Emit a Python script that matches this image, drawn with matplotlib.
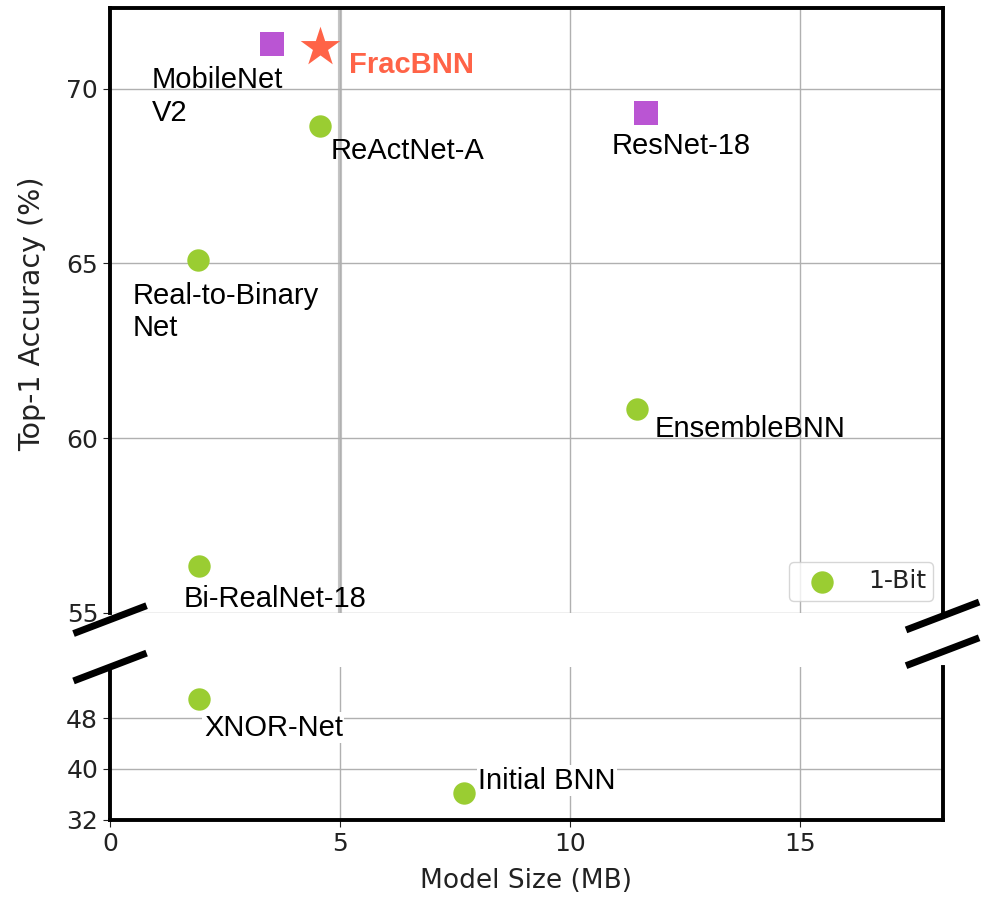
import matplotlib.pyplot as plt
import numpy as np

# model size (MB) / top-1 accuracy (%)
names = ['MobileNet\nV2', 'ResNet-18', 'FracBNN', 'ReActNet-A', 'Real-to-Binary\nNet',
         'EnsembleBNN', 'Bi-RealNet-18', 'XNOR-Net', 'Initial BNN']
size_mb = [3.52, 11.65, 4.57, 4.57, 1.91, 11.46, 1.93, 1.93, 7.7]
acc = [71.26, 69.29, 71.2, 68.94, 65.09, 60.83, 56.34, 51.0, 36.2]
kind = ['fp', 'fp', 'frac', '1bit', '1bit', '1bit', '1bit', '1bit', '1bit']

# label anchor (left/top) per model
lab_x = [0.91, 10.91, 5.2, 4.8, 0.5, 11.83, 1.61, 2.04, 8.0]
lab_y = [70.63, 68.76, 71.08, 68.6, 64.48, 60.65, 55.8, 48.7, 40.35]

green = '#9acd32'
purple = '#ba55d3'
red = '#ff6347'

fig = plt.figure(figsize=(9.87, 8.98), dpi=100)
ax1 = fig.add_axes([0.1115, 0.3174, 0.8435, 0.6736])
ax2 = fig.add_axes([0.1115, 0.0869, 0.8435, 0.1703])

for ax in (ax1, ax2):
    ax.grid(True, color='#b0b0b0', lw=1)
    ax.set_axisbelow(True)
    ax.set_xlim(0, 18.1)
    for s in ax.spines.values():
        s.set_linewidth(2.8)
        s.set_color('black')
    ax.tick_params(labelsize=18, colors='#222222', length=5)
ax1.axvline(5, color='#c4c4c4', lw=3, zorder=0.5)

ax1.set_ylim(55, 72.3)
ax2.set_ylim(32, 56)
ax1.set_yticks([55, 60, 65, 70])
ax2.set_yticks([32, 40, 48])
ax1.set_xticks([0, 5, 10, 15])
ax2.set_xticks([0, 5, 10, 15])
ax1.tick_params(labelbottom=False, bottom=False)
ax1.spines['bottom'].set_visible(False)
ax2.spines['top'].set_visible(False)

first = True
for i in range(len(names)):
    ax = ax1 if acc[i] >= 55 else ax2
    if kind[i] == 'fp':
        ax.scatter(size_mb[i], acc[i], marker='s', s=280, color=purple, zorder=3, lw=0)
    elif kind[i] == 'frac':
        ax.scatter(size_mb[i], acc[i], marker='*', s=900, color=red, zorder=3, lw=0)
    else:
        ax.scatter(size_mb[i], acc[i], marker='o', s=260, color=green, zorder=3, lw=0,
                   label='1-Bit' if first else None)
        first = False
    ax_t = ax1 if lab_y[i] >= 55 else ax2
    if names[i] == 'FracBNN':
        ax_t.text(lab_x[i], lab_y[i], names[i], fontsize=21, fontweight='bold', color=red,
                  ha='left', va='top', family='Liberation Sans', zorder=4)
    elif names[i] in ('Initial BNN', 'XNOR-Net'):
        ax_t.text(lab_x[i], lab_y[i], names[i], fontsize=21, color='black', ha='left', va='top',
                  family='Liberation Sans', zorder=4,
                  bbox=dict(facecolor='white', edgecolor='none', pad=1))
    else:
        ax_t.text(lab_x[i], lab_y[i], names[i], fontsize=21, color='black', ha='left', va='top',
                  family='Liberation Sans', zorder=4)

leg = ax1.legend(loc='lower right', bbox_to_anchor=(0.989, 0.02), borderaxespad=0, fontsize=18,
                 markerscale=1.0, handletextpad=0.85, borderpad=0.3)
for t in leg.get_texts():
    t.set_color('#222222')

# break marks
dx, dy = 0.04, 0.021
kw = dict(color='k', lw=5, clip_on=False, transform=ax1.transAxes)
ax1.plot((-dx, dx), (-dy - 0.011, dy - 0.011), **kw)
ax1.plot((1 - dx, 1 + dx), (-dy - 0.005, dy - 0.005), **kw)
dy2 = dy * 0.6736 / 0.1703
kw.update(transform=ax2.transAxes)
ax2.plot((-dx, dx), (1 - dy2, 1 + dy2), **kw)
ax2.plot((1 - dx, 1 + dx), (1 - dy2 + 0.1, 1 + dy2 + 0.1), **kw)

fig.text(0.033, 0.651, 'Top-1 Accuracy (%)', rotation=90, ha='center', va='center',
         fontsize=20.5, color='#222222')
fig.text(0.533, 0.019, 'Model Size (MB)', ha='center', va='center', fontsize=19, color='#222222')

plt.savefig('out.png', dpi=100)
